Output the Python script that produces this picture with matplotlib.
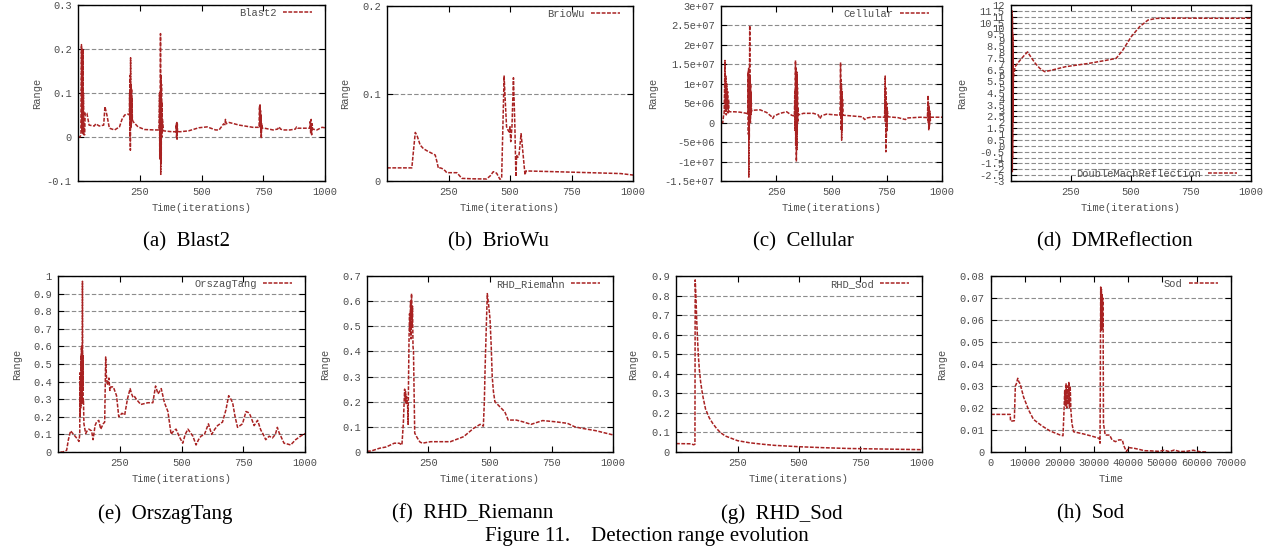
import numpy as np
import matplotlib
matplotlib.use("Agg")
import matplotlib.pyplot as plt
from matplotlib.ticker import FormatStrFormatter


FIG_W, FIG_H = 1276, 550
LINE_COLOR = "#a82222"
TEXT_COLOR = "#4d4d4d"
GRID_COLOR = "#8c8c8c"
OUTPUT_FIG = "out.png"

# (iteration, detection range) samples for every benchmark
BLAST2 = [
    (0, 0.0), (8, 0.0), (12, 0.005), (14, 0.21), (15, 0.02), (16, 0.2), (17, 0.01),
    (18, 0.19), (19, 0.03), (20, 0.2), (21, 0.005), (22, 0.1), (24, 0.005), (27, 0.005),
    (29, 0.055), (36, 0.054), (45, 0.027), (55, 0.026), (66, 0.025), (72, 0.03),
    (86, 0.025), (104, 0.027), (109, 0.069), (117, 0.05), (127, 0.02), (148, 0.016),
    (168, 0.023), (178, 0.04), (189, 0.05), (202, 0.052), (208, 0.05), (209, 0.1),
    (210, 0.0), (211, 0.14), (212, -0.03), (213, 0.18), (214, 0.02), (215, 0.12),
    (216, 0.03), (217, 0.11), (218, 0.04), (219, 0.09), (220, 0.04), (223, 0.035),
    (243, 0.023), (270, 0.017), (311, 0.016), (328, 0.016), (330, 0.1), (331, -0.05),
    (332, 0.09), (333, 0.0), (334, 0.235), (335, -0.085), (336, 0.14), (337, -0.06),
    (338, 0.12), (339, 0.0), (340, 0.08), (341, 0.01), (342, 0.04), (346, 0.014),
    (380, 0.012), (396, 0.012), (398, 0.03), (399, 0.0), (400, 0.033), (401, -0.005),
    (402, 0.03), (403, 0.01), (405, 0.012), (414, 0.012), (448, 0.014), (489, 0.021),
    (523, 0.023), (557, 0.016), (571, 0.016), (590, 0.03), (595, 0.028), (597, 0.04),
    (600, 0.03), (612, 0.033), (653, 0.027), (708, 0.022), (733, 0.022), (735, 0.07),
    (736, 0.03), (737, 0.073), (738, 0.02), (739, 0.06), (740, 0.01), (741, 0.05),
    (742, -0.003), (744, 0.03), (746, 0.02), (755, 0.02), (790, 0.016), (808, 0.018),
    (814, 0.023), (820, 0.018), (831, 0.016), (858, 0.016), (880, 0.018), (885, 0.023),
    (890, 0.02), (913, 0.02), (938, 0.02), (940, 0.035), (942, 0.008), (944, 0.04),
    (946, 0.005), (948, 0.03), (950, 0.018), (967, 0.016), (988, 0.022), (1000, 0.021),
]

BRIOWU = [
    (0, 0.015), (101, 0.015), (106, 0.03), (115, 0.0555), (122, 0.052), (135, 0.041),
    (148, 0.037), (162, 0.0346), (180, 0.032), (196, 0.0297), (203, 0.022), (209, 0.0144),
    (216, 0.015), (223, 0.0144), (236, 0.0118), (243, 0.0095), (284, 0.0095), (295, 0.006),
    (304, 0.003), (350, 0.0025), (405, 0.0023), (420, 0.006), (432, 0.0106), (440, 0.01),
    (446, 0.0087), (459, 0.002), (466, 0.003), (476, 0.12), (481, 0.09), (486, 0.062),
    (492, 0.058), (497, 0.056), (500, 0.062), (503, 0.045), (508, 0.062), (514, 0.118),
    (517, 0.09), (520, 0.06), (524, 0.005), (527, 0.03), (530, 0.027), (536, 0.028),
    (545, 0.054), (550, 0.04), (554, 0.028), (561, 0.007), (565, 0.0115), (700, 0.0105),
    (850, 0.0093), (950, 0.0085), (1000, 0.0068),
]

# values in units of 1e6
CELLULAR_M = [
    (0, 0.0), (8, 0.0), (12, 2.0), (14, 2.0), (16, 8.0), (18, 16.0), (20, 3.0), (22, 12.0),
    (24, 2.0), (26, 10.0), (28, 4.0), (30, 8.0), (32, 2.5), (34, 6.0), (36, 3.0),
    (38, 2.8), (60, 2.8), (86, 2.7), (116, 2.4), (122, 2.2), (123, 13.0), (124, -3.0),
    (125, 14.0), (126, -14.0), (127, 10.0), (128, -4.0), (130, 25.0), (131, 0.0),
    (132, 12.0), (133, 0.0), (134, 10.0), (135, 2.0), (136, 8.0), (138, 3.0),
    (146, 3.2), (177, 3.3), (207, 2.6), (230, 1.5), (235, 1.1), (240, 1.7), (267, 2.4),
    (297, 2.8), (320, 1.9), (332, 1.7), (334, 8.0), (335, -2.0), (337, 16.0), (338, -6.0),
    (340, 14.0), (341, -10.0), (342, 12.0), (343, -7.0), (344, 13.0), (345, -3.0),
    (346, 9.0), (347, 0.0), (348, 4.0), (350, 2.0), (373, 2.4), (418, 2.4), (440, 2.0),
    (448, 1.0), (455, 1.8), (478, 2.2), (538, 1.9), (540, 6.0), (541, 15.5), (542, 2.0),
    (543, 11.0), (544, -2.0), (545, 10.0), (546, -4.5), (547, 8.0), (548, -2.0),
    (550, 6.0), (552, 2.0), (556, 1.9), (598, 1.7), (640, 1.5), (650, 0.8), (659, 1.2),
    (690, 1.5), (740, 1.4), (742, 6.0), (743, 12.0), (744, 0.0), (745, 9.0), (746, -7.5),
    (747, 7.0), (748, -4.0), (750, 5.0), (751, -2.0), (753, 3.0), (756, 1.5), (800, 1.3),
    (835, 0.8), (842, 1.2), (902, 1.4), (934, 1.3), (936, 5.0), (937, 7.0), (938, 0.0),
    (939, 5.0), (940, -2.0), (942, 4.0), (943, -1.0), (945, 3.0), (947, 0.5), (950, 1.4),
    (1000, 1.4),
]

DMREFLECTION = [
    (1, -1.0), (2, 11.5), (2.5, -2.2), (3, 11.2), (3.5, -2.0), (4, 11.5), (4.5, -1.5),
    (5, 10.5), (5.5, -2.2), (6, 11.0), (6.5, -1.0), (7, 9.5), (7.5, 2.0), (8, 8.0),
    (9, 4.0), (10, 5.8), (17, 6.74), (38, 7.3), (55, 7.7), (69, 8.0), (85, 7.5),
    (101, 7.03), (120, 6.6), (140, 6.32), (160, 6.4), (227, 6.74), (326, 7.03),
    (400, 7.3), (438, 7.45), (466, 8.16), (501, 9.3), (536, 10.15), (571, 10.72),
    (606, 10.86), (700, 10.88), (850, 10.87), (1000, 10.87),
]

ORSZAGTANG = [
    (10, 0.0), (20, 0.0), (35, 0.01), (42, 0.07), (51, 0.12), (60, 0.105), (69, 0.09),
    (78, 0.075), (85, 0.06), (88, 0.1), (89, 0.45), (90, 0.2), (91, 0.4), (92, 0.25),
    (93, 0.55), (94, 0.3), (95, 0.6), (96, 0.27), (97, 0.5), (98, 0.3), (99, 0.97),
    (100, 0.35), (101, 0.55), (102, 0.28), (103, 0.3), (105, 0.16), (112, 0.105),
    (118, 0.12), (125, 0.13), (136, 0.12), (142, 0.07), (150, 0.15), (156, 0.17),
    (165, 0.18), (173, 0.13), (183, 0.16), (189, 0.17), (193, 0.54), (196, 0.43),
    (200, 0.38), (203, 0.4), (206, 0.42), (210, 0.35), (214, 0.37), (224, 0.37),
    (237, 0.32), (246, 0.2), (259, 0.22), (270, 0.21), (281, 0.3), (292, 0.36),
    (298, 0.33), (304, 0.31), (310, 0.315), (317, 0.3), (335, 0.27), (364, 0.28),
    (384, 0.28), (395, 0.375), (405, 0.33), (418, 0.36), (431, 0.28), (445, 0.23),
    (458, 0.1), (468, 0.12), (478, 0.13), (490, 0.09), (505, 0.05), (515, 0.1),
    (526, 0.13), (536, 0.11), (546, 0.09), (559, 0.04), (569, 0.07), (579, 0.09),
    (593, 0.1), (609, 0.16), (622, 0.1), (635, 0.13), (646, 0.15), (666, 0.17),
    (680, 0.24), (691, 0.32), (700, 0.3), (707, 0.28), (717, 0.2), (727, 0.14),
    (737, 0.15), (747, 0.16), (761, 0.23), (770, 0.225), (778, 0.21), (794, 0.15),
    (808, 0.18), (821, 0.125), (831, 0.1), (841, 0.07), (855, 0.09), (868, 0.08),
    (880, 0.1), (888, 0.14), (895, 0.11), (902, 0.09), (915, 0.05), (930, 0.045),
    (942, 0.04), (962, 0.07), (982, 0.09), (1000, 0.105),
]

RHD_RIEMANN = [
    (0, 0.003), (17, 0.004), (51, 0.015), (78, 0.02), (111, 0.035), (131, 0.035),
    (142, 0.028), (148, 0.12), (151, 0.2), (153, 0.25), (155, 0.21), (157, 0.24),
    (159, 0.19), (161, 0.22), (163, 0.2), (165, 0.19), (167, 0.11), (169, 0.3),
    (171, 0.46), (173, 0.55), (175, 0.48), (177, 0.6), (179, 0.45), (181, 0.63),
    (183, 0.5), (185, 0.58), (187, 0.42), (189, 0.4), (192, 0.2), (194, 0.075),
    (205, 0.055), (215, 0.04), (225, 0.035), (259, 0.041), (339, 0.041), (393, 0.061),
    (433, 0.094), (460, 0.11), (473, 0.103), (477, 0.2), (480, 0.33), (485, 0.5),
    (489, 0.63), (495, 0.58), (500, 0.53), (505, 0.42), (509, 0.3), (514, 0.24),
    (520, 0.2), (540, 0.18), (560, 0.16), (574, 0.127), (607, 0.127), (634, 0.12),
    (667, 0.11), (714, 0.125), (768, 0.12), (815, 0.114), (845, 0.1), (875, 0.094),
    (929, 0.085), (1000, 0.068),
]

RHD_SOD = [
    (0, 0.043), (60, 0.042), (72, 0.037), (77, 0.04), (78, 0.88), (81, 0.8), (84, 0.68),
    (87, 0.59), (91, 0.49), (95, 0.42), (100, 0.36), (105, 0.317), (110, 0.28),
    (120, 0.22), (135, 0.175), (150, 0.145), (165, 0.12), (180, 0.1), (200, 0.082),
    (250, 0.058), (300, 0.047), (350, 0.04), (400, 0.034), (500, 0.027), (600, 0.022),
    (700, 0.018), (800, 0.016), (900, 0.014), (1000, 0.012),
]

SOD = [
    (0, 0.0171), (5600, 0.0171), (5700, 0.014), (6800, 0.0142), (7100, 0.030),
    (7400, 0.031), (7800, 0.0335), (8100, 0.032), (8500, 0.031), (9500, 0.025),
    (11000, 0.019), (12400, 0.0148), (14900, 0.0118), (17300, 0.0095), (20200, 0.0077),
    (21000, 0.0074), (21300, 0.019), (21500, 0.028), (21700, 0.021), (21900, 0.031),
    (22100, 0.02), (22300, 0.03), (22500, 0.022), (22700, 0.032), (22900, 0.02),
    (23100, 0.03), (23300, 0.019), (23600, 0.013), (24100, 0.0092), (27000, 0.0082),
    (29900, 0.007), (31600, 0.0062), (31800, 0.004), (32000, 0.075), (32100, 0.055),
    (32200, 0.074), (32300, 0.058), (32400, 0.072), (32500, 0.056), (32600, 0.07),
    (32700, 0.06), (32800, 0.013), (33300, 0.0077), (34600, 0.0077), (35300, 0.0055),
    (36300, 0.0047), (37300, 0.0055), (38300, 0.0055), (38700, 0.003), (39500, 0.0002),
    (40200, 0.002), (41700, 0.0017), (43200, 0.0012), (44700, 0.0006), (46700, 0.0005),
    (49000, 0.0003), (50500, 0.0008), (52000, 0.0002), (53500, 0.0009), (55000, 0.0002),
    (57000, 0.0003), (59000, 0.0008), (61000, 0.0001), (63000, 0.0),
]

ITER_TICKS = [250, 500, 750, 1000]
SOD_TICKS = [0, 10000, 20000, 30000, 40000, 50000, 60000, 70000]

# name, data, scale, ylim, ystep, xlim, xticks, xlabel, subcaption
PANELS = [
    ("Blast2", BLAST2, 1.0, (-0.1, 0.3), 0.1, (0, 1000), ITER_TICKS, "Time(iterations)", "(a)  Blast2"),
    ("BrioWu", BRIOWU, 1.0, (0, 0.2), 0.1, (0, 1000), ITER_TICKS, "Time(iterations)", "(b)  BrioWu"),
    ("Cellular", CELLULAR_M, 1e6, (-1.5e7, 3e7), 5e6, (0, 1000), ITER_TICKS, "Time(iterations)", "(c)  Cellular"),
    ("DoubleMachReflection", DMREFLECTION, 1.0, (-3, 12), 0.5, (0, 1000), ITER_TICKS, "Time(iterations)", "(d)  DMReflection"),
    ("OrszagTang", ORSZAGTANG, 1.0, (0, 1), 0.1, (0, 1000), ITER_TICKS, "Time(iterations)", "(e)  OrszagTang"),
    ("RHD_Riemann", RHD_RIEMANN, 1.0, (0, 0.7), 0.1, (0, 1000), ITER_TICKS, "Time(iterations)", "(f)  RHD_Riemann"),
    ("RHD_Sod", RHD_SOD, 1.0, (0, 0.9), 0.1, (0, 1000), ITER_TICKS, "Time(iterations)", "(g)  RHD_Sod"),
    ("Sod", SOD, 1.0, (0, 0.08), 0.01, (0, 70000), SOD_TICKS, "Time", "(h)  Sod"),
]

# axes boxes in pixels: left, top, right, bottom; ylabel centre x; subcaption centre x, y
LAYOUT = [
    ((78, 5, 325, 181), 37, (187, 242)),
    ((387, 6, 633, 181), 345, (499, 242)),
    ((721, 6, 942, 181), 653, (803, 242)),
    ((1011, 5, 1251, 181), 962, (1115, 242)),
    ((58, 276, 305, 452), 17, (165, 514)),
    ((367, 276, 613, 452), 325, (473, 514)),
    ((676, 276, 922, 452), 633, (782, 514)),
    ((991, 276, 1231, 452), 942, (1091, 514)),
]

TICK_SIZE = 7.5


def draw_panel(fig, panel, layout):
    name, data, scale, ylim, ystep, xlim, xticks, xlabel, caption = panel
    (left, top, right, bottom), ylabel_x, (cap_x, cap_y) = layout
    w, h = right - left, bottom - top
    ax = fig.add_axes([left / FIG_W, 1 - bottom / FIG_H, w / FIG_W, h / FIG_H])

    t = [p[0] for p in data]
    r = [p[1] * scale for p in data]
    ax.plot(t, r, color=LINE_COLOR, lw=1.1, ls=(0, (2.5, 1.0)), label=name)

    ax.set_xlim(*xlim)
    ax.set_ylim(*ylim)
    ax.set_xticks(xticks)
    n = int(round((ylim[1] - ylim[0]) / ystep))
    ax.set_yticks([ylim[0] + i * ystep for i in range(n + 1)])
    ax.yaxis.set_major_formatter(FormatStrFormatter("%g"))
    ax.xaxis.set_major_formatter(FormatStrFormatter("%g"))

    ax.yaxis.grid(True, color=GRID_COLOR, lw=0.8, ls=(0, (4, 2)))
    ax.tick_params(direction="in", top=True, right=True, length=4, width=0.8,
                   labelsize=TICK_SIZE, labelcolor=TEXT_COLOR, pad=4.5)
    for sp in ax.spines.values():
        sp.set_linewidth(1.0)

    ax.set_xlabel(xlabel, fontsize=TICK_SIZE, color=TEXT_COLOR, va="center")
    ax.xaxis.set_label_coords(0.5, -27 / h)
    ax.set_ylabel("Range", fontsize=TICK_SIZE, color=TEXT_COLOR, va="center")
    ax.yaxis.set_label_coords((ylabel_x - left) / w, 0.5)

    if name == "DoubleMachReflection":
        leg = ax.legend(loc="lower right", bbox_to_anchor=(1 - 14 / w, 2 / h), markerfirst=False)
    else:
        leg = ax.legend(loc="upper right", bbox_to_anchor=(1 - 13 / w, 1 - 3 / h), markerfirst=False)
    leg.set_frame_on(False)
    for txt in leg.get_texts():
        txt.set_color(TEXT_COLOR)

    fig.text(cap_x / FIG_W, 1 - cap_y / FIG_H, caption, ha="center", va="center",
             family="Liberation Serif", fontsize=15, color="black")
    return ax


def main():
    plt.rcParams["font.family"] = ["Liberation Mono", "DejaVu Sans Mono"]
    plt.rcParams["legend.fontsize"] = TICK_SIZE
    plt.rcParams["legend.handlelength"] = 2.8
    plt.rcParams["legend.handletextpad"] = 0.6
    plt.rcParams["legend.borderpad"] = 0.0
    plt.rcParams["legend.borderaxespad"] = 0.0

    fig = plt.figure(figsize=(FIG_W / 100, FIG_H / 100), dpi=100)
    for panel, layout in zip(PANELS, LAYOUT):
        draw_panel(fig, panel, layout)

    fig.text(647 / FIG_W, 1 - 537 / FIG_H, "Figure 11.    Detection range evolution",
             ha="center", va="center", family="Liberation Serif", fontsize=15)

    fig.savefig(OUTPUT_FIG, dpi=100)


if __name__ == "__main__":
    main()
